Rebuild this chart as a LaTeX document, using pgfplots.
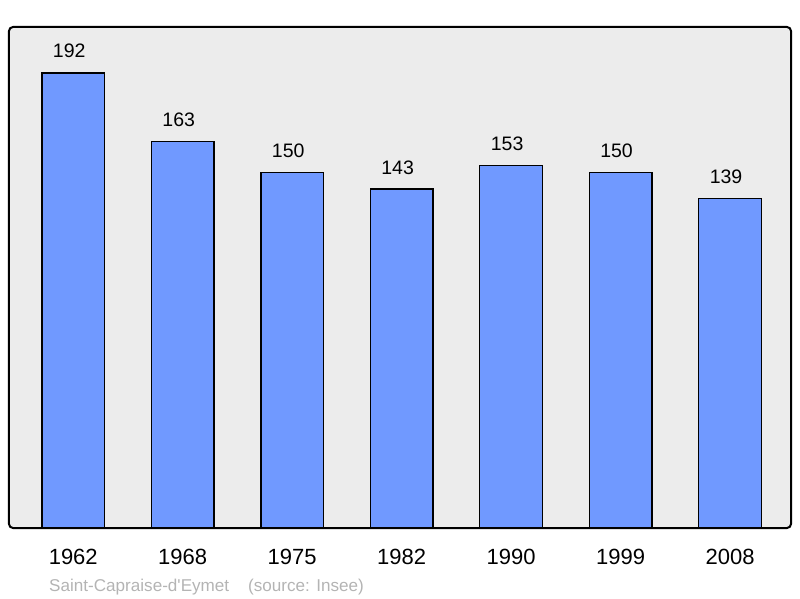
\documentclass[border=0pt]{standalone}
\usepackage{pgfplots}
\pgfplotsset{compat=1.18}
\usepackage{fontspec}
\setmainfont{Liberation Sans}
\newfontfamily\footfont{Liberation Sans}
\definecolor{barblue}{RGB}{112,153,255}
\definecolor{bggray}{RGB}{236,236,236}
\definecolor{foot}{RGB}{180,180,180}
\begin{document}
\begin{tikzpicture}[x=1pt,y=1pt]
\path[use as bounding box] (0,0) rectangle (800,598);
\begin{axis}[
  at={(9pt,70pt)}, anchor=south west,
  scale only axis, width=782pt, height=501pt,
  xmin=-0.587, xmax=6.557, ymin=0, ymax=211.4,
  axis background/.style={fill=bggray},
  axis line style={draw=none},
  /pgf/number format/assume math mode=true,
  ytick=\empty,
  xtick={0,1,2,3,4,5,6},
  xticklabels={1962,1968,1975,1982,1990,1999,2008},
  major tick length=0pt,
  xticklabel style={font=\fontsize{22}{22}\selectfont, anchor=base, yshift=-36.5pt, inner sep=0pt},
  ybar, bar width=0.573, bar shift=0pt,
  nodes near coords,
  nodes near coords style={font=\fontsize{19.5}{20}\selectfont, text=black, anchor=base, yshift=15pt, xshift=-4pt, inner sep=0pt},
  clip=false,
]
\addplot[fill=barblue, draw=black, line width=1.4pt] coordinates {
(0,192) (1,163) (2,150) (3,143) (4,153) (5,150) (6,139)};
\draw[line width=2pt, rounded corners=4pt] (rel axis cs:0,0) rectangle (rel axis cs:1,1);
\end{axis}
\node[anchor=base west, text=foot, font=\footfont\fontsize{17.1}{18}\selectfont, inner sep=0pt] at (49,7) {Saint-Capraise-d'Eymet\hspace{19pt}(source: Insee)};
\end{tikzpicture}
\end{document}
